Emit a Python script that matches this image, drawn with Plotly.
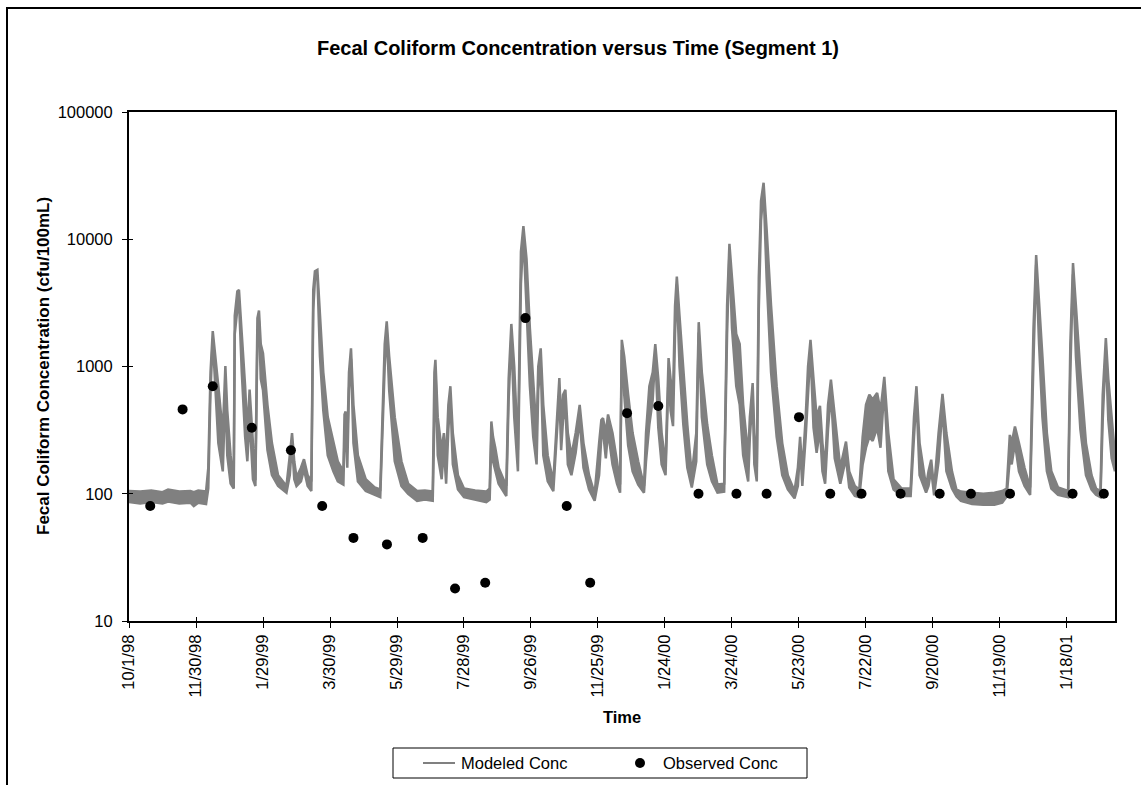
import pandas as pd
import plotly.graph_objects as go

# ---------------------------------------------------------------------------
# Data
# ---------------------------------------------------------------------------
MODEL_START = "1998-10-01"

# Modeled series: upper / lower edge of the diurnal band, keyed by days after MODEL_START
model_day = [
    0, 10, 20, 30, 35, 45, 55, 58, 62, 69,
    71, 73, 75, 77, 80, 84, 86.3, 88, 91, 93.8,
    94.7, 97, 98.5, 101, 104, 106, 108, 111, 113.2,
    115, 116.4, 118, 120, 124, 128, 133.5, 141,
    144, 146, 148, 150, 154, 156.7, 160, 163.3,
    165, 166.5, 168.7, 171, 174, 178, 183, 187, 192,
    193, 194, 195.5, 197, 198.8, 201, 205, 212, 220, 225,
    229, 230.8, 233, 238, 244, 250, 258, 265, 272,
    273.5, 274.4, 276.5, 280, 282, 284, 286, 287.8, 290, 294.6, 300, 310, 320,
    323, 324.5, 326, 328, 331, 337.9,
    340, 342.4, 345, 348.3, 351, 353.2, 356, 359, 362, 365,
    366.5, 368.7, 371, 375, 380,
    383, 385.4, 387, 388.7, 390.8, 393, 396.2, 400, 403.6, 407, 412, 417,
    421, 423, 424.5, 427, 429, 433, 437, 439.8,
    441.3, 443.5, 447, 451, 456, 461.2,
    463, 466, 469, 471.3, 474, 477, 480.5,
    483.2, 485, 487.2, 489, 490.6, 493, 496.4, 500, 504,
    508, 510.2, 513, 517.8, 522, 527, 533,
    535.6, 537.7, 540, 543.8, 546.9, 550, 554.5, 556, 558.5, 560, 562.2,
    564, 566, 568.3, 571, 575, 580, 585, 590, 596,
    599, 601, 603, 606, 608.1, 610.3, 613, 615.8, 618.8, 621, 623.4,
    626, 628.6, 632, 637, 642.1, 645, 650, 654,
    657, 660, 663, 666, 670, 673, 676.4, 680, 684.7, 692, 700,
    703, 705.2, 708, 713.8, 716, 718.4, 721, 725, 728.5, 732, 737, 741,
    745, 755, 765, 775, 782, 786,
    788.8, 790.5, 793.4, 797, 802, 807,
    810, 812.4, 815, 818, 822, 826, 832, 841,
    843, 845.4, 848, 852, 857, 862, 866, 870,
    872, 874.8, 877, 880, 883,
]
model_hi = [
    105, 104, 106, 103, 108, 104, 105, 103, 106, 104,
    160, 900, 1900, 1300, 700, 300, 1010, 450, 200, 125,
    2500, 3900, 4000, 1800, 700, 300, 660, 250, 128,
    2400, 2750, 1500, 1270, 500, 250, 140, 115,
    200, 300, 180, 135, 160, 187, 140, 125,
    4000, 5600, 5750, 2500, 900, 400, 250, 180, 150,
    420, 443, 250, 900, 1390, 500, 200, 130, 112, 108,
    1500, 2260, 1200, 400, 180, 120, 105, 106, 104,
    900, 1130, 400, 220, 300, 180, 500, 700, 300, 140, 110, 106, 104,
    110, 370, 280, 230, 160, 115,
    800, 2160, 1000, 220, 8000, 12700, 7000, 2000, 700, 300,
    1000, 1390, 500, 200, 125,
    400, 810, 350, 600, 657, 300, 200, 300, 500, 250, 140, 100,
    250, 380, 393, 300, 420, 300, 180, 118,
    1620, 1200, 600, 300, 180, 115,
    300, 700, 900, 1500, 800, 300, 170,
    1165, 800, 600, 3000, 5100, 2500, 900, 350, 140,
    300, 2230, 900, 350, 200, 118, 120,
    3000, 9200, 5000, 1800, 1500, 500, 200, 400, 740, 300, 160,
    5000, 20000, 27800, 12000, 3000, 700, 250, 140, 105,
    160, 280, 150, 400, 1000, 1620, 800, 400, 490, 250, 160,
    500, 790, 400, 160, 257, 150, 115, 108,
    280, 500, 600, 550, 620, 450, 830, 300, 130, 110, 110,
    400, 700, 250, 114, 150, 185, 110, 300, 610, 300, 150, 108,
    104, 102, 100, 102, 105, 110,
    290, 250, 338, 250, 160, 112,
    2000, 7500, 3500, 1200, 300, 150, 112, 105,
    1500, 6500, 3000, 900, 250, 140, 110, 105,
    600, 1670, 800, 400, 200,
]
model_lo = [
    86, 84, 86, 84, 87, 84, 85, 80, 85, 83,
    110, 650, 1650, 700, 250, 150, 650, 200, 120, 110,
    1800, 2800, 3300, 900, 280, 180, 400, 130, 115,
    1700, 2300, 800, 650, 220, 140, 115, 102,
    140, 250, 130, 115, 125, 155, 115, 105,
    2800, 4800, 5200, 1200, 450, 200, 150, 125, 118,
    280, 360, 160, 650, 1150, 250, 125, 105, 98, 94,
    1000, 1900, 650, 180, 115, 100, 88, 90, 88,
    650, 980, 200, 130, 230, 120, 320, 560, 170, 108, 94, 90, 86,
    90, 280, 180, 150, 120, 96,
    550, 1700, 400, 150, 4500, 10800, 2800, 700, 280, 170,
    650, 1050, 200, 125, 105,
    280, 620, 220, 380, 480, 170, 140, 210, 380, 160, 108, 88,
    140, 280, 310, 190, 310, 170, 120, 102,
    1350, 600, 240, 150, 118, 102,
    180, 350, 550, 1250, 330, 170, 140,
    850, 450, 340, 1800, 4400, 1000, 350, 160, 112,
    180, 1850, 400, 170, 125, 102, 104,
    1800, 7800, 2000, 700, 500, 200, 125, 280, 580, 170, 125,
    2800, 14000, 24500, 5000, 900, 280, 140, 108, 92,
    115, 230, 115, 280, 650, 1350, 330, 210, 320, 150, 120,
    320, 620, 190, 120, 190, 112, 96, 94,
    170, 230, 280, 260, 330, 230, 680, 150, 108, 96, 96,
    280, 580, 140, 102, 115, 155, 97, 180, 480, 150, 110, 95,
    88, 83, 82, 82, 85, 95,
    190, 170, 250, 150, 115, 98,
    1100, 6300, 1500, 400, 150, 110, 98, 94,
    900, 5300, 1200, 320, 140, 108, 98, 94,
    380, 1350, 380, 190, 150,
]
assert len(model_day) == len(model_hi) == len(model_lo)

# Observed samples
obs_dates = [
    "1998-10-20", "1998-11-18", "1998-12-15", "1999-01-19", "1999-02-23",
    "1999-03-23", "1999-04-20", "1999-05-20", "1999-06-21", "1999-07-20",
    "1999-08-16", "1999-09-21", "1999-10-28", "1999-11-18", "1999-12-21",
    "2000-01-18", "2000-02-23", "2000-03-28", "2000-04-24", "2000-05-23",
    "2000-06-20", "2000-07-18", "2000-08-22", "2000-09-26", "2000-10-24",
    "2000-11-28", "2001-01-23", "2001-02-20",
]
obs_conc = [
    80, 460, 700, 330, 220,
    80, 45, 40, 45, 18,
    20, 2400, 80, 20, 430,
    490, 100, 100, 100, 400,
    100, 100, 100, 100, 100,
    100, 100, 100,
]

# Axis ticks
x_tick_dates = [
    "1998-10-01", "1998-11-30", "1999-01-29", "1999-03-30", "1999-05-29",
    "1999-07-28", "1999-09-26", "1999-11-25", "2000-01-24", "2000-03-24",
    "2000-05-23", "2000-07-22", "2000-09-20", "2000-11-19", "2001-01-18",
]
x_tick_labels = [
    "10/1/98", "11/30/98", "1/29/99", "3/30/99", "5/29/99",
    "7/28/99", "9/26/99", "11/25/99", "1/24/00", "3/24/00",
    "5/23/00", "7/22/00", "9/20/00", "11/19/00", "1/18/01",
]
y_tick_vals = [10, 100, 1000, 10000, 100000]
y_tick_labels = ["10", "100", "1000", "10000", "100000"]
X_END = "2001-03-02"

MODEL_NAME = "Modeled Conc"
OBS_NAME = "Observed Conc"

# ---------------------------------------------------------------------------
# Figure
# ---------------------------------------------------------------------------
W, H = 1141, 785
PL, PR, PT, PB = 129, 1115, 112, 621   # plot-area edges in pixels
FONT = "Liberation Sans, Arial, sans-serif"
GRAY = "#808080"


def fx(p):
    return (p - PL) / (PR - PL)


def fy(p):
    return (PB - p) / (PB - PT)


model_x = pd.Timestamp(MODEL_START) + pd.to_timedelta(model_day, unit="D")

fig = go.Figure()
fig.add_trace(go.Scatter(
    x=model_x, y=model_hi, mode="lines", name=MODEL_NAME,
    line=dict(color=GRAY, width=2.5), hoverinfo="skip",
))
fig.add_trace(go.Scatter(
    x=model_x, y=model_lo, mode="lines", fill="tonexty", fillcolor=GRAY, name=MODEL_NAME,
    line=dict(color=GRAY, width=2.5), hoverinfo="skip",
))
fig.add_trace(go.Scatter(
    x=pd.to_datetime(obs_dates), y=obs_conc, mode="markers", name=OBS_NAME,
    marker=dict(color="black", size=10, symbol="circle"),
))
# second axis pair carries the inner half of the crossing tick marks
fig.add_trace(go.Scatter(
    x=[None], y=[None], xaxis="x2", yaxis="y2", hoverinfo="skip",
))

tick_style = dict(
    tickmode="array", tickcolor="black", tickwidth=1,
    showgrid=False, zeroline=False,
    tickfont=dict(family=FONT, size=16.5, color="black"),
)

# Legend box drawn in pixel layout: frame, line sample, dot sample
LEG_L, LEG_R, LEG_T, LEG_B = 393, 807, 748, 778
LEG_MID = (LEG_T + LEG_B) / 2
legend_shapes = [
    dict(type="rect", xref="paper", yref="paper",
         x0=fx(LEG_L), x1=fx(LEG_R), y0=fy(LEG_B), y1=fy(LEG_T),
         line=dict(color="black", width=1), fillcolor="white"),
    dict(type="line", xref="paper", yref="paper",
         x0=fx(423), x1=fx(455), y0=fy(LEG_MID), y1=fy(LEG_MID),
         line=dict(color=GRAY, width=2)),
    dict(type="circle", xref="paper", yref="paper",
         x0=fx(635), x1=fx(645), y0=fy(LEG_MID + 5), y1=fy(LEG_MID - 5),
         line=dict(color="black", width=0), fillcolor="black"),
]

fig.update_layout(
    width=W, height=H,
    margin=dict(l=PL, r=W - PR, t=PT, b=H - PB, pad=0, autoexpand=False),
    paper_bgcolor="white", plot_bgcolor="white",
    font=dict(family=FONT, size=16.5, color="black"),
    showlegend=False,
    xaxis=dict(
        type="date", range=[MODEL_START, X_END],
        tickvals=x_tick_dates, ticktext=x_tick_labels,
        tickangle=-90, ticks="outside", ticklen=5,
        showline=True, linecolor="black", linewidth=2, mirror=True,
        **tick_style,
    ),
    yaxis=dict(
        type="log", range=[1, 5],
        tickvals=y_tick_vals, ticktext=y_tick_labels,
        ticks="outside", ticklen=5, ticklabelstandoff=6,
        showline=True, linecolor="black", linewidth=2, mirror=True,
        **tick_style,
    ),
    xaxis2=dict(
        type="date", range=[MODEL_START, X_END], overlaying="x", anchor="y2",
        tickvals=x_tick_dates, ticks="inside", ticklen=4, showticklabels=False,
        showline=False, **tick_style,
    ),
    yaxis2=dict(
        type="log", range=[1, 5], overlaying="y", anchor="x2",
        tickvals=y_tick_vals, ticks="inside", ticklen=4, showticklabels=False,
        showline=False, **tick_style,
    ),
    shapes=[
        dict(type="rect", xref="paper", yref="paper",
             x0=fx(7), x1=fx(1300), y0=fy(900), y1=fy(8),
             line=dict(color="black", width=2), fillcolor="rgba(0,0,0,0)", layer="below"),
    ] + legend_shapes,
    annotations=[
        dict(text="<b>Fecal Coliform Concentration versus Time (Segment 1)</b>",
             xref="paper", yref="paper", x=fx(578), y=fy(48),
             xanchor="center", yanchor="middle", showarrow=False,
             font=dict(family=FONT, size=20, color="black")),
        dict(text="<b>Fecal Coliform Concentration (cfu/100mL)</b>",
             xref="paper", yref="paper", x=fx(43.5), y=fy((PT + PB) / 2),
             xanchor="center", yanchor="middle", textangle=-90, showarrow=False,
             font=dict(family=FONT, size=17, color="black")),
        dict(text="<b>Time</b>",
             xref="paper", yref="paper", x=fx(622), y=fy(717),
             xanchor="center", yanchor="middle", showarrow=False,
             font=dict(family=FONT, size=16.5, color="black")),
        dict(text=MODEL_NAME,
             xref="paper", yref="paper", x=fx(459), y=fy(LEG_MID),
             xanchor="left", yanchor="middle", showarrow=False,
             font=dict(family=FONT, size=16.5, color="black")),
        dict(text=OBS_NAME,
             xref="paper", yref="paper", x=fx(661), y=fy(LEG_MID),
             xanchor="left", yanchor="middle", showarrow=False,
             font=dict(family=FONT, size=16.5, color="black")),
    ],
)

fig.write_html("out.html")
